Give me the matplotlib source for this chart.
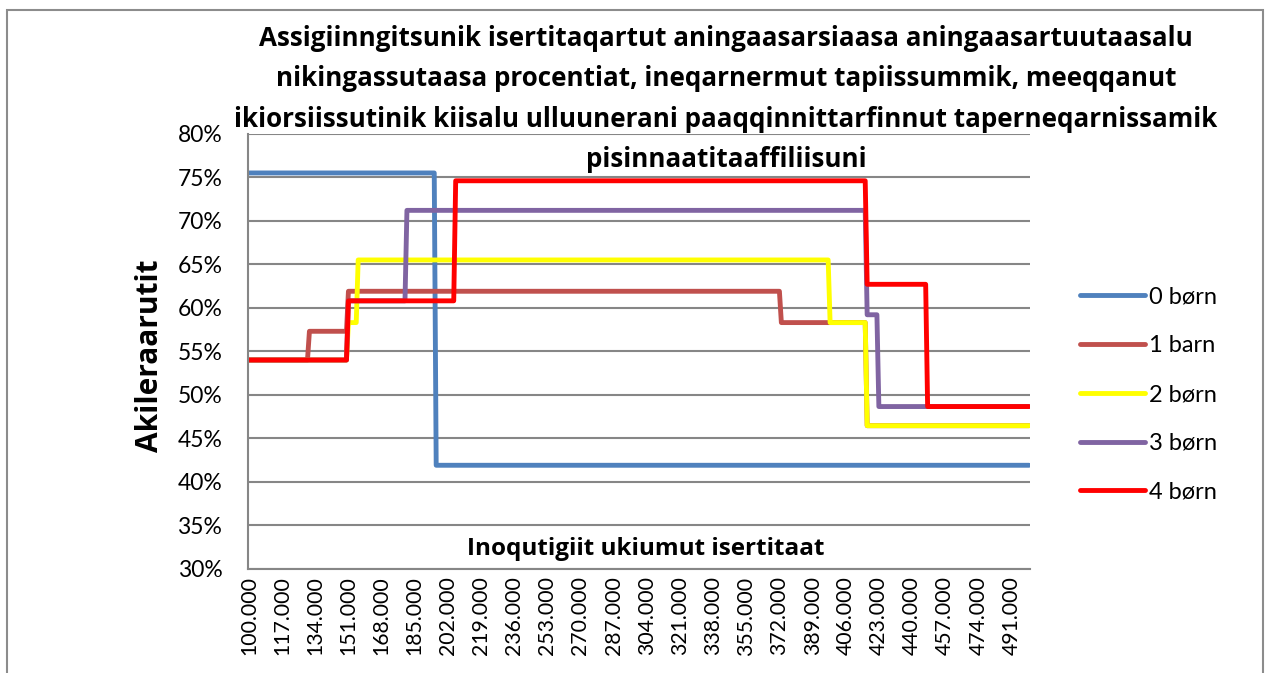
import matplotlib
matplotlib.use("Agg")
import matplotlib.pyplot as plt
from matplotlib.patches import Rectangle
import numpy as np

# ---- data ----
incomes = list(range(100, 501))           # household income, thousands
tick_labels = [f"{v}.000" for v in range(100, 501, 17)]

# step rules: (income where rate starts, rate %)
starts_0 = [100, 196]
rates_0 = [75.5, 41.9]
starts_1 = [100, 131, 151, 373, 417]
rates_1 = [54.0, 57.3, 61.9, 58.3, 46.45]
starts_2 = [100, 151, 156, 398, 417]
rates_2 = [54.0, 58.3, 65.5, 58.3, 46.45]
starts_3 = [100, 151, 181, 417, 423]
rates_3 = [54.0, 60.8, 71.2, 59.2, 48.65]
starts_4 = [100, 151, 206, 417, 448]
rates_4 = [54.0, 60.8, 74.6, 62.7, 48.65]

series_names = ["0 børn", "1 barn", "2 børn", "3 børn", "4 børn"]
series_colors = ["#4F81BD", "#C0504D", "#FFFF00", "#8064A2", "#FF0000"]

title = ("Assigiinngitsunik isertitaqartut aningaasarsiaasa aningaasartuutaasalu\n"
         "nikingassutaasa procentiat, ineqarnermut tapiissummik, meeqqanut\n"
         "ikiorsiissutinik kiisalu ulluunerani paaqqinnittarfinnut taperneqarnissamik\n"
         "pisinnaatitaaffiliisuni")
ylabel = "Akileraarutit"
xlabel = "Inoqutigiit ukiumut isertitaat"


def expand(starts, rates):
    out = []
    for inc in incomes:
        r = rates[0]
        for s, v in zip(starts, rates):
            if inc >= s:
                r = v
        out.append(r / 100.0)
    return out


series = [expand(starts_0, rates_0), expand(starts_1, rates_1),
          expand(starts_2, rates_2), expand(starts_3, rates_3),
          expand(starts_4, rates_4)]

plt.rcParams['font.family'] = ['Lato', 'DejaVu Sans']
BOLD = ['Open Sans', 'DejaVu Sans']

W, H = 1269, 673
fig = plt.figure(figsize=(W / 100, H / 100), dpi=100)
fig.patch.set_facecolor("white")

# outer chart border
fig.add_artist(Rectangle((7 / W, -0.05), (1263 - 7) / W, (H - 10) / H + 0.05,
                         transform=fig.transFigure, fill=False,
                         edgecolor="#8c8c8c", linewidth=1.5))

ax = fig.add_axes([248 / W, 1 - 568.8 / H, (1030 - 248) / W, (568.8 - 133.8) / H])

x = np.arange(len(incomes))
for vals, name, col in zip(series, series_names, series_colors):
    ax.plot(x, vals, color=col, lw=3.5, label=name,
            solid_joinstyle="round", solid_capstyle="round")

ax.set_xlim(-0.5, len(incomes) - 0.5)
ax.set_ylim(0.30, 0.80)
yt = np.arange(0.30, 0.801, 0.05)
ax.set_yticks(yt)
ax.set_yticklabels([f"{int(round(v * 100))}%" for v in yt], fontsize=16.5)
ax.set_xticks(np.arange(0, len(incomes), 17))
ax.set_xticklabels(tick_labels, rotation=90, fontsize=15.3)
ax.tick_params(axis="y", length=0, pad=18.5)
ax.tick_params(axis="x", length=0, pad=5.5)

ax.grid(axis="y", color="#868686", lw=1.5)
ax.set_axisbelow(True)
for s in ["top", "right"]:
    ax.spines[s].set_visible(False)
for s in ["left", "bottom"]:
    ax.spines[s].set_color("#868686")
    ax.spines[s].set_linewidth(1.5)

fig.text(150 / W, 1 - 356 / H, ylabel, rotation=90, ha="center", va="center",
         fontsize=21.5, fontweight="bold", family=BOLD)
ax.text((646 - 248) / 782, (568.8 - 549) / 435, xlabel, transform=ax.transAxes,
        ha="center", va="center", fontsize=17.5, fontweight="bold", family=BOLD)

fig.text(726 / W, 1 - 25 / H, title, ha="center", va="top",
         fontsize=18.7, fontweight="bold", linespacing=1.64, family=BOLD)

leg = ax.legend(loc="center left", bbox_to_anchor=(1.0366, (568.8 - 394.5) / 435),
                frameon=False, fontsize=17, handlelength=2.75, handletextpad=0.17,
                labelspacing=1.18)

fig.savefig("out.png", dpi=100)
